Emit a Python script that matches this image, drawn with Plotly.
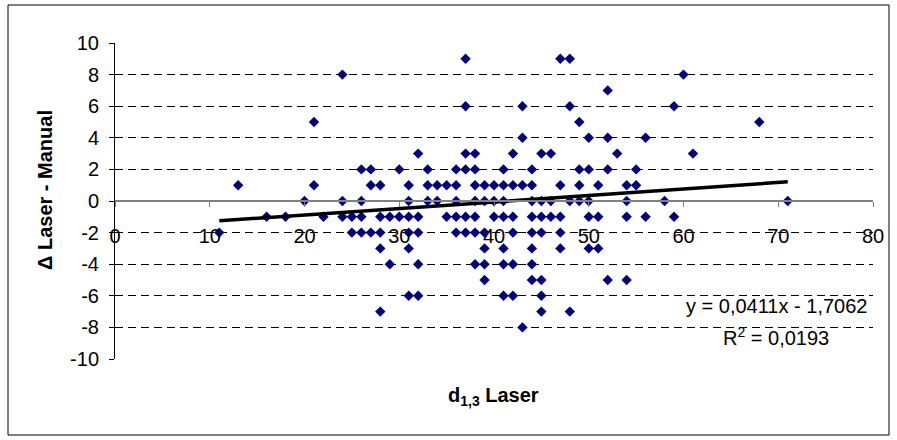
import plotly.graph_objects as go

# ---- data (d1,3 Laser vs. Δ Laser - Manual) ----
d13_laser = (
    [37, 47, 48] +                                   # Δ = 9
    [24, 60] +                                       # Δ = 8
    [52] +                                           # Δ = 7
    [37, 43, 48, 59] +                               # Δ = 6
    [21, 49, 68] +                                   # Δ = 5
    [43, 50, 52, 56] +                               # Δ = 4
    [32, 37, 38, 42, 45, 46, 53, 61] +               # Δ = 3
    [26, 27, 30, 33, 36, 37, 38, 41, 44, 49, 50, 52, 55] +   # Δ = 2
    [13, 21, 27, 28, 31, 33, 34, 35, 36, 38, 39, 40, 41, 42, 43, 44, 47,
     49, 51, 54, 55] +                               # Δ = 1
    [20, 24, 26, 31, 33, 34, 36, 38, 39, 40, 41, 44, 45, 46, 48, 49, 50,
     54, 58, 71] +                                   # Δ = 0
    [16, 18, 22, 24, 25, 26, 28, 29, 30, 31, 32, 35, 36, 37, 38, 40, 41,
     42, 44, 45, 46, 47, 50, 51, 54, 56, 59] +       # Δ = -1
    [11, 25, 26, 27, 28, 31, 32, 36, 37, 38, 39, 42, 44, 45, 47] +  # Δ = -2
    [28, 31, 39, 41, 44, 47, 50, 51] +               # Δ = -3
    [29, 32, 38, 39, 41, 42, 44] +                   # Δ = -4
    [39, 44, 45, 52, 54] +                           # Δ = -5
    [31, 32, 41, 42, 45] +                           # Δ = -6
    [28, 45, 48] +                                   # Δ = -7
    [43]                                             # Δ = -8
)
row_values = [9, 8, 7, 6, 5, 4, 3, 2, 1, 0, -1, -2, -3, -4, -5, -6, -7, -8]
row_counts = [3, 2, 1, 4, 3, 4, 8, 13, 21, 20, 27, 15, 8, 7, 5, 5, 3, 1]
delta_laser_manual = [v for v, n in zip(row_values, row_counts) for _ in range(n)]

# trendline as printed on the chart: y = 0,0411x - 1,7062 ; R² = 0,0193
trend_slope = 0.0411
trend_intercept = -1.7062
trend_x = [min(d13_laser), max(d13_laser)]
trend_y = [trend_slope * v + trend_intercept for v in trend_x]

x_ticks = [0, 10, 20, 30, 40, 50, 60, 70, 80]
y_ticks = [-10, -8, -6, -4, -2, 0, 2, 4, 6, 8, 10]

FONT = "Liberation Sans, Arial, sans-serif"

fig = go.Figure()
fig.add_trace(go.Scatter(
    x=d13_laser, y=delta_laser_manual, mode="markers",
    marker=dict(symbol="diamond", size=8, color="#000080", line=dict(width=0)),
    showlegend=False, hoverinfo="x+y"))
fig.add_trace(go.Scatter(
    x=trend_x, y=trend_y, mode="lines",
    line=dict(color="black", width=3.5), showlegend=False, hoverinfo="skip"))

fig.update_layout(
    width=897, height=440,
    margin=dict(l=115, r=24, t=43, b=81, pad=0),
    paper_bgcolor="white", plot_bgcolor="white",
    font=dict(family=FONT, size=20, color="black"),
    xaxis=dict(
        range=[0, 80], tickvals=x_ticks, ticktext=[str(t) for t in x_ticks],
        showgrid=False, zeroline=False,
        showline=True, linecolor="#808080", linewidth=1.5,
        ticks="outside", ticklen=5, tickcolor="#808080", tickwidth=1,
        anchor="free", position=0.5, ticklabelstandoff=12,
        tickfont=dict(family=FONT, size=20, color="black"),
    ),
    yaxis=dict(
        range=[-10, 10], tickvals=y_ticks, ticktext=[str(t) for t in y_ticks],
        showgrid=True, gridcolor="black", gridwidth=1, griddash="8px,5px",
        zeroline=False,
        showline=True, linecolor="black", linewidth=1,
        ticks="outside", ticklen=5, tickcolor="black", tickwidth=1,
        ticklabelstandoff=6,
        tickfont=dict(family=FONT, size=20, color="black"),
    ),
    shapes=[dict(type="rect", xref="paper", yref="paper",
                 x0=(8 - 115) / 758, x1=(889 - 115) / 758,
                 y0=1 - (435 - 43) / 316, y1=1 - (5 - 43) / 316,
                 line=dict(color="black", width=1), fillcolor="rgba(0,0,0,0)",
                 layer="below")],
    annotations=[
        dict(text="<b>d<sub>1,3</sub> Laser</b>", xref="paper", yref="paper",
             x=(493 - 115) / 758, y=1 - (396 - 43) / 316,
             xanchor="center", yanchor="middle", showarrow=False,
             font=dict(family=FONT, size=20)),
        dict(text="<b>Δ Laser - Manual</b>", xref="paper", yref="paper",
             x=(45 - 115) / 758, y=1 - (190 - 43) / 316, textangle=-90,
             xanchor="center", yanchor="middle", showarrow=False,
             font=dict(family=FONT, size=20)),
        dict(text="y = 0,0411x - 1,7062", xref="paper", yref="paper",
             x=(776 - 115) / 758, y=1 - (306 - 43) / 316,
             xanchor="center", yanchor="middle", showarrow=False,
             font=dict(family=FONT, size=20)),
        dict(text="R<sup>2</sup> = 0,0193", xref="paper", yref="paper",
             x=(776 - 115) / 758, y=1 - (336 - 43) / 316,
             xanchor="center", yanchor="middle", showarrow=False,
             font=dict(family=FONT, size=20)),
    ],
)

fig.write_html(
    "out.html",
    config={"displayModeBar": False},
    post_script="document.body.style.margin='0';document.body.style.overflow='hidden';",
)
